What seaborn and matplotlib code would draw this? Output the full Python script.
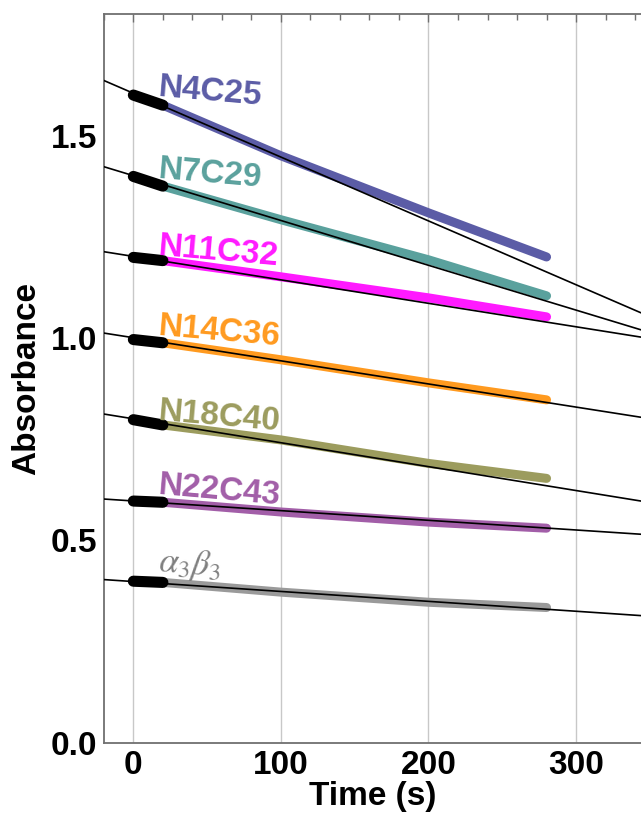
import matplotlib
matplotlib.use("Agg")
import matplotlib.pyplot as plt
from matplotlib.ticker import MultipleLocator
import seaborn as sns
import pandas as pd

# series names and colours
names = ["N4C25", "N7C29", "N11C32", "N14C36", "N18C40", "N22C43", r"$\alpha_3\beta_3$"]
colors = ["#5b5ca6", "#5aa19d", "#ff1aff", "#ff9a1f", "#9c9c5e", "#a25ea8", "#9a9a9a"]
label_colors = ["#5b5ca6", "#5aa19d", "#ff1aff", "#ff9a1f", "#9c9c5e", "#a25ea8", "#808080"]

# measured absorbance (coloured band), read at these times (s)
obs_t = [20, 100, 200, 280]
obs_N4C25 = [1.575, 1.450, 1.309, 1.200]
obs_N7C29 = [1.375, 1.292, 1.193, 1.104]
obs_N11C32 = [1.191, 1.151, 1.099, 1.052]
obs_N14C36 = [0.988, 0.946, 0.889, 0.847]
obs_N18C40 = [0.785, 0.748, 0.690, 0.653]
obs_N22C43 = [0.594, 0.570, 0.545, 0.530]
obs_a3b3 = [0.396, 0.372, 0.347, 0.334]
obs = [obs_N4C25, obs_N7C29, obs_N11C32, obs_N14C36, obs_N18C40, obs_N22C43, obs_a3b3]

# first 20 s (black points used for the fit)
init_t = [0, 20]
init_start = [1.600, 1.399, 1.199, 0.996, 0.798, 0.597, 0.399]

# linear fits, value at both ends of the time axis
fit_t = [-20, 344]
fit_left = [1.636, 1.423, 1.213, 1.012, 0.812, 0.602, 0.403]
fit_right = [1.062, 1.020, 1.002, 0.804, 0.597, 0.515, 0.314]

# label anchor (time, absorbance)
label_x = 17
label_y = [1.619, 1.416, 1.225, 1.027, 0.817, 0.636, 0.446]

rows_obs, rows_init, rows_fit = [], [], []
for i, n in enumerate(names):
    for t, v in zip(obs_t, obs[i]):
        rows_obs.append({"t": t, "A": v, "s": n})
    for t, v in zip(init_t, [init_start[i], obs[i][0]]):
        rows_init.append({"t": t, "A": v, "s": n})
    for t, v in zip(fit_t, [fit_left[i], fit_right[i]]):
        rows_fit.append({"t": t, "A": v, "s": n})
df_obs = pd.DataFrame(rows_obs)
df_init = pd.DataFrame(rows_init)
df_fit = pd.DataFrame(rows_fit)

sns.set_theme(style="white")
plt.rcParams["font.family"] = ["Liberation Sans", "DejaVu Sans"]
plt.rcParams["mathtext.fontset"] = "stix"
plt.rcParams["text.color"] = "black"
plt.rcParams["axes.labelcolor"] = "black"
plt.rcParams["xtick.labelcolor"] = "black"
plt.rcParams["ytick.labelcolor"] = "black"

fig = plt.figure(figsize=(6.41, 8.15), dpi=100)
ax = fig.add_axes([0.162, 0.0887, 0.838, 0.894])

for x in [0, 100, 200, 300]:
    ax.axvline(x, color="#c8c8c8", lw=1.0, zorder=0)

sns.lineplot(data=df_obs, x="t", y="A", hue="s", palette=dict(zip(names, colors)),
             lw=6.5, legend=False, ax=ax, solid_capstyle="round", zorder=2)
sns.lineplot(data=df_init, x="t", y="A", units="s", estimator=None, color="black",
             lw=8, legend=False, ax=ax, solid_capstyle="round", zorder=3)
sns.lineplot(data=df_fit, x="t", y="A", units="s", estimator=None, color="black",
             lw=1.2, legend=False, ax=ax, zorder=4)

for i, n in enumerate(names):
    if n.startswith("$"):
        ax.text(label_x, label_y[i], n, color=label_colors[i], fontsize=25,
                fontweight="normal", ha="left", va="center", rotation=-5,
                rotation_mode="anchor")
    else:
        ax.text(label_x, label_y[i], n, color=label_colors[i], fontsize=24,
                fontweight="bold", ha="left", va="center", rotation=-5,
                rotation_mode="anchor")

ax.set_xlim(-20, 344)
ax.set_ylim(0, 1.8)
ax.xaxis.set_major_locator(MultipleLocator(100))
ax.xaxis.set_minor_locator(MultipleLocator(20))
ax.yaxis.set_major_locator(MultipleLocator(0.5))
ax.yaxis.set_minor_locator(MultipleLocator(0.1))
ax.yaxis.set_major_formatter(plt.FormatStrFormatter("%.1f"))
ax.tick_params(which="both", direction="in", top=True, right=False, color="#707070",
               width=1.0)
ax.tick_params(which="major", length=6, labelsize=24, pad=5)
ax.tick_params(which="minor", length=4)
for lab in ax.get_xticklabels() + ax.get_yticklabels():
    lab.set_fontweight("bold")

for side in ["left", "bottom", "top"]:
    ax.spines[side].set_color("#707070")
    ax.spines[side].set_linewidth(1.3)
ax.spines["right"].set_visible(False)

ax.set_xlabel("Time (s)", fontsize=24, fontweight="bold", labelpad=0)
ax.set_ylabel("Absorbance", fontsize=24, fontweight="bold", labelpad=6)

fig.savefig("out.png", dpi=100)
